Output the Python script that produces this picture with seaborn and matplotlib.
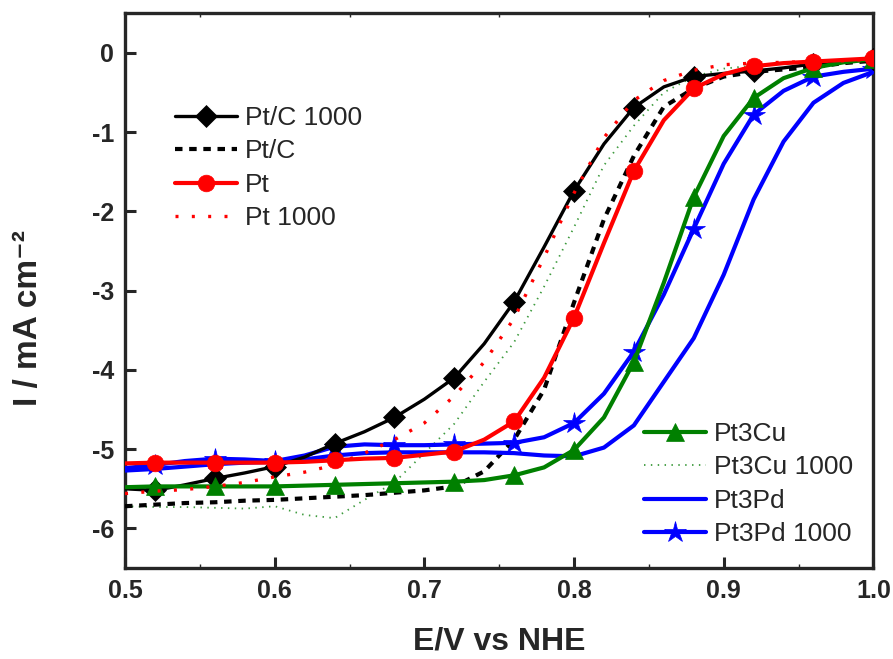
import numpy as np
import pandas as pd
import seaborn as sns
import matplotlib
matplotlib.use("Agg")
import matplotlib.pyplot as plt
from matplotlib.ticker import MultipleLocator

# potential grid (V vs NHE), read every 0.02 V
E = [0.50, 0.52, 0.54, 0.56, 0.58, 0.60, 0.62, 0.64, 0.66, 0.68, 0.70, 0.72, 0.74,
     0.76, 0.78, 0.80, 0.82, 0.84, 0.86, 0.88, 0.90, 0.92, 0.94, 0.96, 0.98, 1.00]

pt_c_1000 = [-5.50, -5.52, -5.45, -5.37, -5.30, -5.22, -5.10, -4.93, -4.78, -4.60, -4.37, -4.10, -3.67,
             -3.14, -2.45, -1.74, -1.15, -0.69, -0.43, -0.30, -0.26, -0.23, -0.19, -0.14, -0.11, -0.08]
pt_c = [-5.72, -5.70, -5.68, -5.67, -5.65, -5.64, -5.62, -5.60, -5.58, -5.55, -5.52, -5.47, -5.28,
        -4.88, -4.25, -3.15, -2.10, -1.30, -0.68, -0.45, -0.30, -0.24, -0.21, -0.18, -0.13, -0.10]
pt = [-5.18, -5.17, -5.17, -5.17, -5.17, -5.17, -5.16, -5.14, -5.12, -5.11, -5.07, -5.03, -4.88,
      -4.65, -4.10, -3.34, -2.40, -1.49, -0.85, -0.45, -0.27, -0.17, -0.13, -0.11, -0.09, -0.07]
pt_1000 = [-5.56, -5.53, -5.51, -5.47, -5.42, -5.35, -5.29, -5.20, -5.05, -4.88, -4.67, -4.33, -3.90,
           -3.35, -2.58, -1.77, -1.07, -0.60, -0.35, -0.22, -0.15, -0.13, -0.12, -0.11, -0.10, -0.08]
pt3cu = [-5.48, -5.47, -5.47, -5.47, -5.47, -5.47, -5.46, -5.45, -5.44, -5.43, -5.42, -5.41, -5.39,
         -5.33, -5.23, -5.01, -4.60, -3.90, -2.90, -1.82, -1.05, -0.57, -0.32, -0.19, -0.12, -0.08]
pt3cu_1000 = [-5.72, -5.73, -5.73, -5.74, -5.75, -5.72, -5.83, -5.87, -5.64, -5.42, -5.05, -4.68, -4.15,
              -3.65, -2.95, -2.20, -1.42, -0.92, -0.50, -0.30, -0.20, -0.16, -0.13, -0.12, -0.10, -0.08]
pt3pd = [-5.27, -5.25, -5.22, -5.19, -5.17, -5.16, -5.13, -5.08, -5.05, -5.04, -5.04, -5.04, -5.04,
         -5.05, -5.08, -5.09, -4.98, -4.70, -4.15, -3.60, -2.80, -1.85, -1.12, -0.63, -0.38, -0.24]
pt3pd_1000 = [-5.24, -5.20, -5.15, -5.12, -5.13, -5.15, -5.08, -4.97, -4.94, -4.95, -4.95, -4.94, -4.93,
              -4.92, -4.85, -4.67, -4.30, -3.77, -3.05, -2.22, -1.40, -0.78, -0.48, -0.30, -0.24, -0.20]

sns.set_style("ticks")
plt.rcParams["font.family"] = ["Liberation Sans", "DejaVu Sans"]
plt.rcParams["axes.unicode_minus"] = False

fig = plt.figure(figsize=(8.93, 6.59), dpi=100)
ax = fig.add_axes([0.140, 0.138, 0.838, 0.842])

marks = slice(1, None, 2)  # markers every 0.04 V starting at 0.52
lw = 3.0
ms = 12

series = [
    # (values, label, color, linestyle, marker, linewidth, zorder)
    (pt3cu_1000, "Pt3Cu 1000", "#3d9a3d", (0, (0.8, 3.0)), None, 1.3, 2),
    (pt_c, "Pt/C", "black", (0, (1.8, 1.6)), None, 3.0, 3),
    (pt3pd, "Pt3Pd", "#0000ff", "-", None, lw, 4),
    (pt3pd_1000, "Pt3Pd 1000", "#0000ff", "-", "*", lw, 5),
    (pt_c_1000, "Pt/C 1000", "black", "-", "D", 2.4, 6),
    (pt3cu, "Pt3Cu", "#008000", "-", "^", lw, 7),
    (pt_1000, "Pt 1000", "#ff0000", (0, (0.9, 4.0)), None, 2.4, 8),
    (pt, "Pt", "#ff0000", "-", "o", lw, 9),
]

handles = {}
for vals, label, color, ls, mk, w, z in series:
    kws = dict(color=color, linestyle=ls, linewidth=w, zorder=z, label=label)
    if mk is not None:
        size = {"*": ms + 4, "D": ms - 1, "^": ms + 1, "o": ms}[mk]
        kws.update(marker=mk, markevery=marks, markersize=size,
                   markeredgecolor=color, markerfacecolor=color, markeredgewidth=0.5)
    sns.lineplot(x=E, y=vals, ax=ax, legend=False, **kws)
    handles[label] = ax.get_lines()[-1]

ax.set_xlim(0.5, 1.0)
ax.set_ylim(-6.5, 0.5)
ax.xaxis.set_minor_locator(MultipleLocator(0.05))
ax.set_xticks(np.arange(0.5, 1.01, 0.1))
ax.set_xticklabels(["0.5", "0.6", "0.7", "0.8", "0.9", "1.0"])
ax.set_yticks(range(-6, 1))
ax.set_yticklabels([str(v) for v in range(-6, 1)])

ax.tick_params(axis="both", which="major", direction="in", length=8, width=2.2,
               labelsize=18, pad=8)
ax.tick_params(axis="x", which="minor", direction="in", length=3, width=1.0,
               top=True)
for lab in ax.get_xticklabels() + ax.get_yticklabels():
    lab.set_fontweight("bold")
for sp in ax.spines.values():
    sp.set_linewidth(2.4)
    sp.set_visible(True)

ax.set_xlabel("E/V vs NHE", fontsize=23, fontweight="bold", labelpad=17)
ax.set_ylabel("I / mA cm\u207b\u00b2", fontsize=24, fontweight="bold")
ax.yaxis.set_label_coords(-0.108, 0.45)

leg_kws = dict(frameon=False, fontsize=19, handlelength=2.35, handletextpad=0.3,
               labelspacing=0.36, borderaxespad=0)
top_labels = ["Pt/C 1000", "Pt/C", "Pt", "Pt 1000"]
bot_labels = ["Pt3Cu", "Pt3Cu 1000", "Pt3Pd", "Pt3Pd 1000"]
leg1 = ax.legend([handles[k] for k in top_labels], top_labels, loc="upper left",
                 bbox_to_anchor=(0.053, 0.852), **leg_kws)
ax.add_artist(leg1)
ax.legend([handles[k] for k in bot_labels], bot_labels, loc="lower right",
          bbox_to_anchor=(0.987, 0.02), **leg_kws)

fig.savefig("out.png", dpi=100)
